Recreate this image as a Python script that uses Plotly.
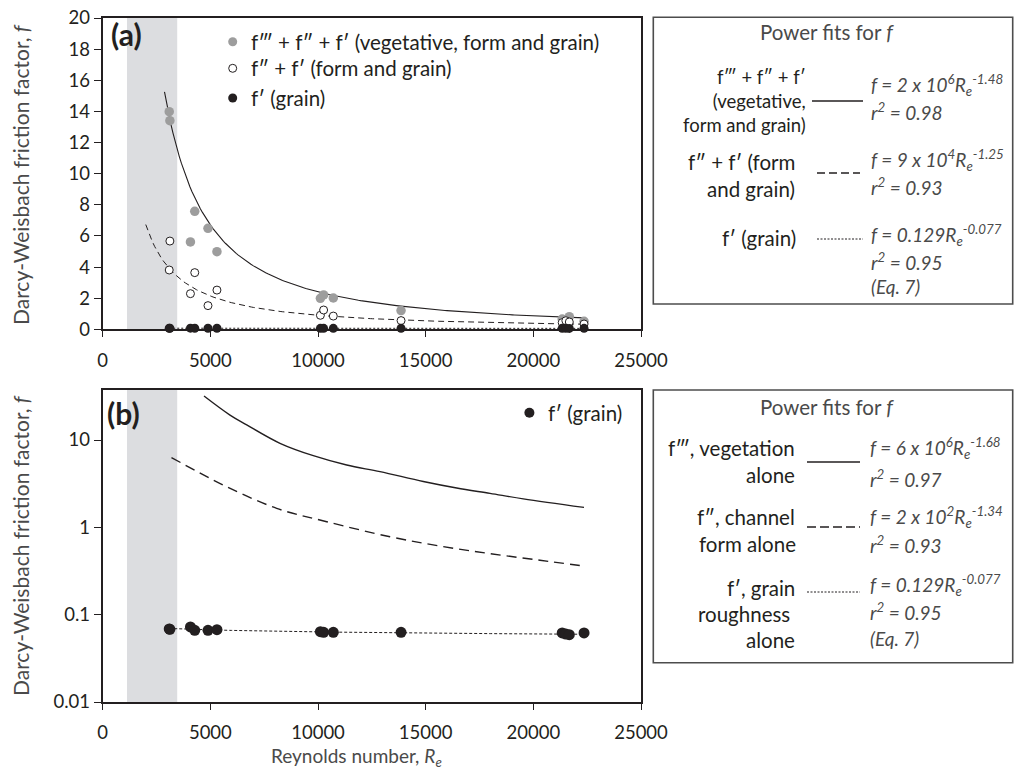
import numpy as np
import plotly.graph_objects as go

W, H = 1016, 773

# ---- measured data (Reynolds number, friction factors) ----
re_sites = [3090, 3120, 4075, 4275, 4890, 5306, 10110, 10260, 10710,
            13856, 21340, 21510, 21670, 22355]
f_total = [13.98, 13.40, 5.61, 7.58, 6.49, 4.99, 1.99, 2.21, 2.01,
           1.20, 0.66, 0.56, 0.81, 0.51]
f_form_grain = [3.81, 5.67, 2.29, 3.64, 1.52, 2.52, 0.90, 1.24, 0.85,
                0.56, 0.43, 0.55, 0.47, 0.34]
f_grain = [0.0686, 0.068, 0.0723, 0.0662, 0.0662, 0.0673, 0.0638, 0.0628,
           0.0628, 0.0628, 0.0617, 0.060, 0.059, 0.0617]

# ---- power fits, f = a * Re^b ----
fit_total = (2e6, -1.48)
fit_form_grain = (9e4, -1.25)
fit_grain = (0.129, -0.077)
fit_total_range = (2870, 22355)
fit_form_grain_range = (2000, 22355)
fit_grain_range = (3090, 22355)

# ---- component curves shown in panel (b) ----
veg_curve_re = [4705, 5912, 6688, 8234, 9781, 11332, 12879, 14890,
                16441, 17987, 19534, 22355]
veg_curve_f = [31.9, 19.3, 14.9, 9.17, 6.61, 5.17, 4.34, 3.35,
               2.82, 2.45, 2.12, 1.69]
form_curve_re = [3194, 5601, 8081, 10403, 13343, 15665, 17987, 20309, 22355]
form_curve_f = [6.3, 3.05, 1.65, 1.16, 0.78, 0.61, 0.50, 0.42, 0.36]

# shaded Reynolds-number band
shade_re = (1130, 3460)

x_ticks = [0, 5000, 10000, 15000, 20000, 25000]
x_ticktext = ["0", "5000", "10000", "15000", "20000", "25000"]
ya_ticks = list(range(0, 21, 2))
yb_ticks = [0.01, 0.1, 1, 10]
yb_ticktext = ["0.01", "0.1", "1", "10"]

INK = "#231f20"
GRAY_TXT = "#4a4a4a"
FONT = "Lato, 'Open Sans', sans-serif"
LBL = 20.5  # label text size


def px(x):
    return x / W


def py(y):
    return 1 - y / H


def power_curve(fit, rng, n=200):
    x = np.linspace(rng[0], rng[1], n)
    return x, fit[0] * x ** fit[1]


fig = go.Figure()

# ---- panel (a) ----
xt, yt = power_curve(fit_total, fit_total_range)
fig.add_trace(go.Scatter(x=xt, y=yt, mode="lines", xaxis="x", yaxis="y",
                         line=dict(color=INK, width=1.1)))
xf, yf = power_curve(fit_form_grain, fit_form_grain_range)
fig.add_trace(go.Scatter(x=xf, y=yf, mode="lines", xaxis="x", yaxis="y",
                         line=dict(color=INK, width=1, dash="6px,4px")))
xg, yg = power_curve(fit_grain, fit_grain_range)
fig.add_trace(go.Scatter(x=xg, y=yg, mode="lines", xaxis="x", yaxis="y",
                         line=dict(color=INK, width=1, dash="2px,2px")))
fig.add_trace(go.Scatter(x=re_sites, y=f_total, mode="markers", xaxis="x", yaxis="y",
                         marker=dict(color="#9d9d9d", size=9.5, line=dict(width=0))))
fig.add_trace(go.Scatter(x=re_sites, y=f_form_grain, mode="markers", xaxis="x", yaxis="y",
                         marker=dict(color="white", size=8, line=dict(color=INK, width=1))))
fig.add_trace(go.Scatter(x=re_sites, y=f_grain, mode="markers", xaxis="x", yaxis="y",
                         cliponaxis=False,
                         marker=dict(color=INK, size=9, line=dict(width=0))))

# ---- panel (b) ----
fig.add_trace(go.Scatter(x=veg_curve_re, y=veg_curve_f, mode="lines", xaxis="x2", yaxis="y2",
                         line=dict(color=INK, width=1.4, shape="spline", smoothing=1.0)))
fig.add_trace(go.Scatter(x=form_curve_re, y=form_curve_f, mode="lines", xaxis="x2", yaxis="y2",
                         line=dict(color=INK, width=1.4, dash="10px,6px", shape="spline",
                                   smoothing=1.0)))
fig.add_trace(go.Scatter(x=xg, y=yg, mode="lines", xaxis="x2", yaxis="y2",
                         line=dict(color=INK, width=1, dash="3px,2px")))
fig.add_trace(go.Scatter(x=re_sites, y=f_grain, mode="markers", xaxis="x2", yaxis="y2",
                         marker=dict(color=INK, size=11, line=dict(width=0))))

axis_common = dict(showline=True, mirror=True, linecolor=INK, linewidth=2,
                   ticks="outside", tickcolor=INK, showgrid=False, zeroline=False,
                   tickfont=dict(family=FONT, size=18.5, color=INK), automargin=False)

x_dom = [px(102.7), px(641)]
fig.update_layout(
    width=W, height=H,
    margin=dict(l=0, r=0, t=0, b=0),
    paper_bgcolor="white", plot_bgcolor="white",
    showlegend=False,
    font=dict(family=FONT, color=INK),
    xaxis=dict(domain=x_dom, range=[0, 25000], anchor="y", tickvals=x_ticks,
               ticktext=x_ticktext, ticklen=6, ticklabelstandoff=7, **axis_common),
    yaxis=dict(domain=[py(329.3), py(18)], range=[0, 20], anchor="x", tickvals=ya_ticks,
               ticklen=7, **axis_common),
    xaxis2=dict(domain=x_dom, range=[0, 25000], anchor="y2", tickvals=x_ticks,
                ticktext=x_ticktext, ticklen=6, ticklabelstandoff=7, **axis_common),
    yaxis2=dict(domain=[py(702), py(390)], type="log", range=[-2, 1.5725], anchor="x2",
                tickvals=yb_ticks, ticktext=yb_ticktext, ticklen=7, **axis_common),
)

shapes = []
# shaded band in both panels
for xr, yr in (("x", "y domain"), ("x2", "y2 domain")):
    shapes.append(dict(type="rect", xref=xr, yref=yr, x0=shade_re[0], x1=shade_re[1],
                       y0=0, y1=1, fillcolor="#dcdde0", line=dict(width=0), layer="below"))

# fit-summary boxes
for top, bottom in ((17.3, 304), (390, 662.7)):
    shapes.append(dict(type="rect", xref="paper", yref="paper",
                       x0=px(653.3), x1=px(1012.7), y0=py(bottom), y1=py(top),
                       line=dict(color="#4d4d4d", width=1.6), fillcolor="rgba(0,0,0,0)"))


def sample_line(x0, x1, y, dash, width=1.3):
    shapes.append(dict(type="line", xref="paper", yref="paper",
                       x0=px(x0), x1=px(x1), y0=py(y), y1=py(y),
                       line=dict(color=INK, width=width, dash=dash)))


sample_line(812, 863, 101, "solid", 1.6)
sample_line(817, 860, 173, "8px,4px", 1.3)
sample_line(817, 863, 239, "2px,1.5px", 1.0)
sample_line(807, 860, 462, "solid", 1.6)
sample_line(807, 860, 527, "9px,4px", 1.3)
sample_line(807, 860, 592, "2px,1.5px", 1.0)


def dot(cx, cy, r, fill, line_w=0):
    shapes.append(dict(type="circle", xref="paper", yref="paper",
                       x0=px(cx - r), x1=px(cx + r), y0=py(cy + r), y1=py(cy - r),
                       fillcolor=fill, line=dict(color=INK, width=line_w)))


# in-plot legend markers
dot(232.7, 41.7, 4.5, "#9d9d9d")
dot(232.7, 68.3, 4.0, "white", 1)
dot(232.7, 98.0, 4.5, INK)
dot(529.4, 412.7, 5.0, INK)

fig.update_layout(shapes=shapes)

ann = []


def text(x, y, s, size=LBL, anchor="left", color=INK, **kw):
    ann.append(dict(x=px(x), y=py(y), xref="paper", yref="paper", text=s,
                    showarrow=False, xanchor=anchor, yanchor="middle",
                    font=dict(family=FONT, size=size, color=color), **kw))


# panel tags
text(109, 34, "<b>(a)</b>", size=30)
text(105, 413.3, "<b>(b)</b>", size=30)

# in-plot legend text
text(248.8, 41.7, "f\u2034 + f\u2033 + f\u2032 (vegetative, form and grain)")
text(248.8, 68.3, "f\u2033 + f\u2032 (form and grain)")
text(248.8, 98.0, "f\u2032 (grain)")
text(546.2, 412.7, "f\u2032 (grain)")

# axis titles
ytitle = "Darcy-Weisbach friction factor, <i>f</i>"
text(20, 175, ytitle, size=21, anchor="center", color=GRAY_TXT, textangle=-90)
text(20, 546, ytitle, size=21, anchor="center", color=GRAY_TXT, textangle=-90)
text(356, 757, "Reynolds number, <i>R<sub>e</sub></i>", size=19, anchor="center",
     color=GRAY_TXT)

# box (a)
text(827, 31.7, "Power fits for <i>f</i>", anchor="center", color=GRAY_TXT)
text(808, 101, "f\u2034 + f\u2033 + f\u2032<br>(vegetative,<br>form and grain)",
     size=18.5, anchor="right", align="right")
text(797, 162, "f\u2033 + f\u2032 (form", anchor="right")
text(797, 189, "and grain)", anchor="right")
text(798, 238, "f\u2032 (grain)", anchor="right")
text(869, 85, "<i>f = 2 x 10<sup>6</sup>R<sub>e</sub><sup>-1.48</sup></i>", size=19, color=GRAY_TXT)
text(869, 111, "<i>r<sup>2</sup> = 0.98</i>", size=19, color=GRAY_TXT)
text(869, 160, "<i>f = 9 x 10<sup>4</sup>R<sub>e</sub><sup>-1.25</sup></i>", size=19, color=GRAY_TXT)
text(869, 186, "<i>r<sup>2</sup> = 0.93</i>", size=19, color=GRAY_TXT)
text(869, 235, "<i>f = 0.129R<sub>e</sub><sup>-0.077</sup></i>", size=19, color=GRAY_TXT)
text(869, 261, "<i>r<sup>2</sup> = 0.95</i>", size=19, color=GRAY_TXT)
text(869, 286, "<i>(Eq. 7)</i>", size=19, color=GRAY_TXT)

# box (b)
text(827, 407, "Power fits for <i>f</i>", anchor="center", color=GRAY_TXT)
text(797, 448, "f\u2034, vegetation", anchor="right")
text(797, 475, "alone", anchor="right")
text(797, 517, "f\u2033, channel", anchor="right")
text(798, 544, "form alone", anchor="right")
text(797, 588, "f\u2032, grain", anchor="right")
text(792, 614, "roughness", anchor="right")
text(797, 640, "alone", anchor="right")
text(868, 448, "<i>f = 6 x 10<sup>6</sup>R<sub>e</sub><sup>-1.68</sup></i>", size=19, color=GRAY_TXT)
text(868, 478, "<i>r<sup>2</sup> = 0.97</i>", size=19, color=GRAY_TXT)
text(868, 517, "<i>f = 2 x 10<sup>2</sup>R<sub>e</sub><sup>-1.34</sup></i>", size=19, color=GRAY_TXT)
text(868, 544, "<i>r<sup>2</sup> = 0.93</i>", size=19, color=GRAY_TXT)
text(868, 585, "<i>f = 0.129R<sub>e</sub><sup>-0.077</sup></i>", size=19, color=GRAY_TXT)
text(868, 611, "<i>r<sup>2</sup> = 0.95</i>", size=19, color=GRAY_TXT)
text(868, 638, "<i>(Eq. 7)</i>", size=19, color=GRAY_TXT)

fig.update_layout(annotations=ann)

fig.write_html("out.html")
